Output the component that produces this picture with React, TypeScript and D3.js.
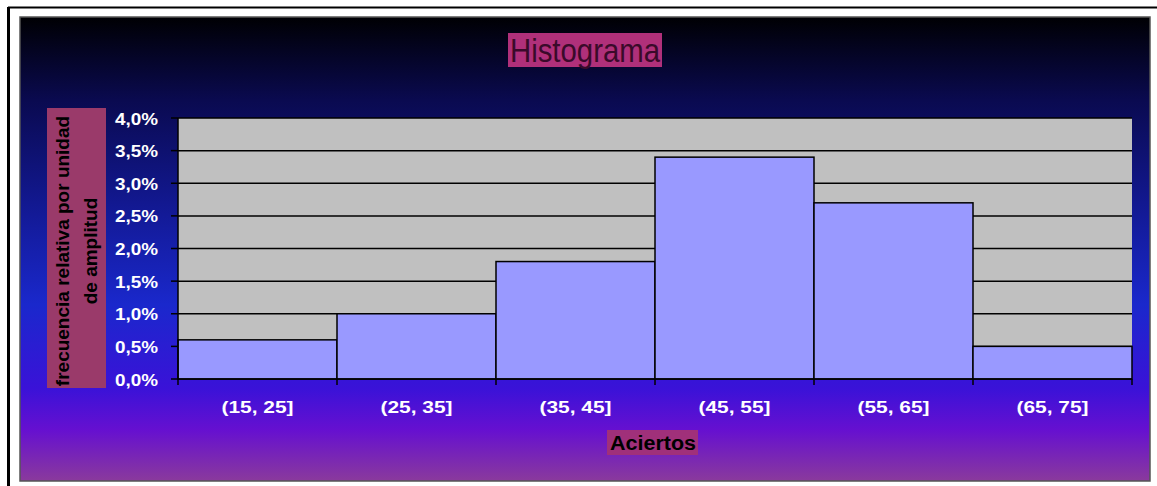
import React from "react";
import * as d3 from "d3";

// Histogram classes and relative frequency per unit of width
const categories = ["(15, 25]", "(25, 35]", "(35, 45]", "(45, 55]", "(55, 65]", "(65, 75]"];
const values = [0.006, 0.01, 0.018, 0.034, 0.027, 0.005];
const yTicks = [0, 0.005, 0.01, 0.015, 0.02, 0.025, 0.03, 0.035, 0.04];

const W = 1157;
const H = 486;
const plot = { left: 178, right: 1132, top: 118, bottom: 379 };

export default function App() {
  const x = d3
    .scaleBand<string>()
    .domain(categories)
    .range([plot.left, plot.right])
    .padding(0);
  const y = d3.scaleLinear().domain([0, 0.04]).range([plot.bottom, plot.top]);
  const fmt = (v: number) => d3.format(".1%")(v).replace(".", ",");
  const font = "'Liberation Sans', Arial, sans-serif";

  return (
    <svg
      width={W}
      height={H}
      style={{ position: "absolute", left: 0, top: 0, background: "#fff" }}
    >
      <defs>
        <linearGradient id="bg" x1="0" y1="0" x2="0" y2="1">
          <stop offset="0" stopColor="#000003" />
          <stop offset="0.18" stopColor="#0a0a50" />
          <stop offset="0.4" stopColor="#121890" />
          <stop offset="0.62" stopColor="#1a28cc" />
          <stop offset="0.8" stopColor="#3a12d8" />
          <stop offset="0.89" stopColor="#6610d0" />
          <stop offset="1" stopColor="#8a3a9c" />
        </linearGradient>
      </defs>

      {/* outer frame */}
      <line x1={8} y1={7.5} x2={W} y2={7.5} stroke="#000" strokeWidth={2} />
      <line x1={8.5} y1={7} x2={8.5} y2={H} stroke="#000" strokeWidth={3} />

      {/* chart area */}
      <rect x={20} y={17} width={1130} height={464} fill="url(#bg)" stroke="#555" strokeWidth={1.5} />

      {/* title */}
      <rect x={508} y={33} width={154} height={34} fill="#b0307a" />
      <text
        x={510}
        y={62}
        fontFamily={font}
        fontSize={34}
        textLength={150}
        lengthAdjust="spacingAndGlyphs"
        fill="#3a0a2a"
      >
        Histograma
      </text>

      {/* plot background */}
      <rect
        x={plot.left}
        y={plot.top}
        width={plot.right - plot.left}
        height={plot.bottom - plot.top}
        fill="#c0c0c0"
      />

      {/* gridlines */}
      {yTicks.slice(1).map((t) => (
        <line
          key={t}
          x1={plot.left}
          x2={plot.right}
          y1={y(t)}
          y2={y(t)}
          stroke="#000"
          strokeWidth={1.5}
        />
      ))}

      {/* bars */}
      {categories.map((c, i) => (
        <rect
          key={c}
          x={x(c)}
          y={y(values[i])}
          width={x.bandwidth()}
          height={plot.bottom - y(values[i])}
          fill="#9999ff"
          stroke="#000"
          strokeWidth={1.5}
        />
      ))}

      {/* y axis */}
      <line x1={plot.left} x2={plot.left} y1={plot.top} y2={plot.bottom} stroke="#000" strokeWidth={1.5} />
      {yTicks.map((t) => (
        <g key={t}>
          <line x1={plot.left - 7} x2={plot.left} y1={y(t)} y2={y(t)} stroke="#000" strokeWidth={1.5} />
          <text
            x={115}
            y={y(t) + 6.5}
            fontFamily={font}
            fontWeight="bold"
            fontSize={17}
            textLength={43}
            lengthAdjust="spacingAndGlyphs"
            fill="#fff"
          >
            {fmt(t)}
          </text>
        </g>
      ))}

      {/* x axis */}
      <line x1={plot.left} x2={plot.right} y1={plot.bottom} y2={plot.bottom} stroke="#000" strokeWidth={1.5} />
      {categories.map((c) => (
        <line
          key={"t" + c}
          x1={x(c) as number}
          x2={x(c) as number}
          y1={plot.bottom}
          y2={plot.bottom + 6}
          stroke="#000"
          strokeWidth={1.5}
        />
      ))}
      <line x1={plot.right} x2={plot.right} y1={plot.bottom} y2={plot.bottom + 6} stroke="#000" strokeWidth={1.5} />
      {categories.map((c) => (
        <text
          key={"l" + c}
          x={(x(c) as number) + x.bandwidth() / 2 - 36}
          y={413}
          fontFamily={font}
          fontWeight="bold"
          fontSize={17}
          textLength={72}
          lengthAdjust="spacingAndGlyphs"
          fill="#fff"
        >
          {c}
        </text>
      ))}

      {/* x axis title */}
      <rect x={607} y={430} width={91} height={25} fill="#a0307a" />
      <text
        x={610}
        y={450}
        fontFamily={font}
        fontWeight="bold"
        fontSize={20}
        textLength={86}
        lengthAdjust="spacingAndGlyphs"
        fill="#000"
      >
        Aciertos
      </text>

      {/* y axis title */}
      <rect x={47} y={108} width={59} height={280} fill="#9a3a6a" />
      <g transform="translate(0,251) rotate(-90)">
        <text
          textAnchor="middle"
          fontFamily={font}
          fontWeight="bold"
          fontSize={19}
          fill="#000"
        >
          <tspan x={0} y={69}>frecuencia relativa por unidad</tspan>
          <tspan x={0} y={97}>de amplitud</tspan>
        </text>
      </g>
    </svg>
  );
}
